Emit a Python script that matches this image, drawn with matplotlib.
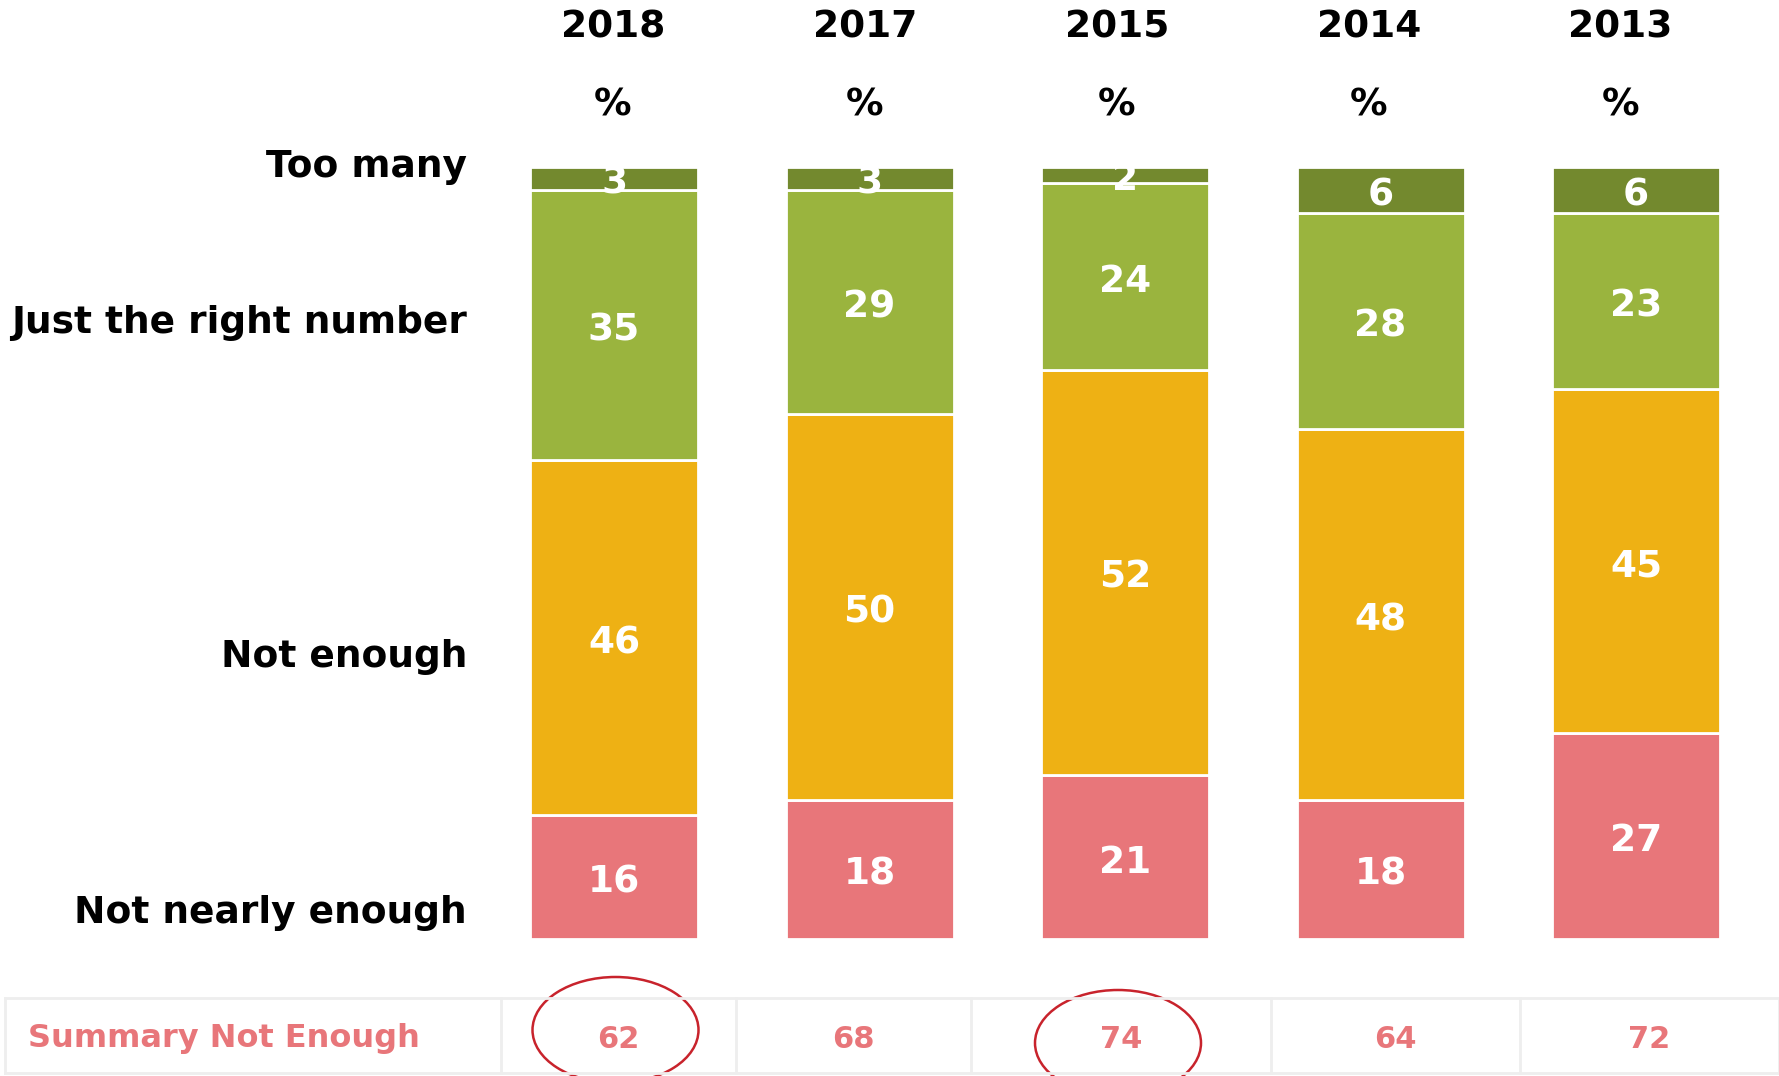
import numpy as np
import matplotlib.pyplot as plt
from matplotlib.patches import Ellipse
from matplotlib.lines import Line2D
from matplotlib.transforms import blended_transform_factory

# data
years = ['2018', '2017', '2015', '2014', '2013']
not_nearly = [16, 18, 21, 18, 27]
not_enough = [46, 50, 52, 48, 45]
just_right = [35, 29, 24, 28, 23]
too_many = [3, 3, 2, 6, 6]
summary = [62, 68, 74, 64, 72]
circled = [0, 2]  # columns circled in red

row_labels = ['Not nearly enough', 'Not enough', 'Just the right number', 'Too many']
row_label_y = [913, 657, 323, 167]  # pixel rows of the left labels
colors = ['#E8767A', '#EEB114', '#9AB43E', '#73892E']

W, H = 1779, 1076
fig = plt.figure(figsize=(W / 100, H / 100), dpi=100)
plt.rcParams['font.family'] = ['DejaVu Sans']

# axes laid out so that bars land where they are in the picture
bar_bottom, bar_top = 939, 167
ax = fig.add_axes([0, (H - bar_bottom) / H, 1, (bar_bottom - bar_top) / H])
step = 255.5
x0 = 614
ax.set_xlim(-x0 / step, (W - x0) / step)
ax.set_ylim(0, 100)
ax.axis('off')

series = np.array([not_nearly, not_enough, just_right, too_many], dtype=float)
totals = series.sum(axis=0)
pct = series / totals * 100
x = np.arange(len(years))
bottom = np.zeros(len(years))
for k in range(len(series)):
    ax.bar(x, pct[k], bottom=bottom, width=168 / step, color=colors[k],
           edgecolor='white', linewidth=2)
    for i in range(len(years)):
        yc = bottom[i] + pct[k][i] / 2 - 0.7
        ax.text(x[i], yc, str(int(series[k][i])), ha='center', va='center',
                color='white', fontsize=27, fontweight='bold')
    bottom += pct[k]

# column headers
tr = blended_transform_factory(ax.transData, fig.transFigure)
for i, yr in enumerate(years):
    hx = x[i] * 0.986 - 0.004
    ax.text(hx, 1 - 27 / H, yr, transform=tr, ha='center', va='center',
            fontsize=27, fontweight='bold', color='black')
    ax.text(hx, 1 - 105 / H, '%', transform=tr, ha='center', va='center',
            fontsize=27, fontweight='bold', color='black')

# row labels on the left
for lab, yy in zip(row_labels, row_label_y):
    fig.text(467 / W, 1 - yy / H, lab, ha='right', va='center',
             fontsize=27, fontweight='bold', color='black')

# summary table
grid = '#EEEEEE'
top_y = 1 - 998 / H
bot_y = 1 - 1073 / H
fig.add_artist(Line2D([5 / W, 1], [top_y, top_y], color=grid, lw=2))
fig.add_artist(Line2D([5 / W, 1], [bot_y, bot_y], color=grid, lw=2))
edges = [5, 501, 736, 971, 1271, 1520, 1779]
for e in edges:
    fig.add_artist(Line2D([e / W, e / W], [top_y, bot_y], color=grid, lw=2))

fig.text(28 / W, 1 - 1039 / H, 'Summary Not Enough', ha='left', va='center',
         fontsize=23, fontweight='bold', color='#E8767A')
for i, v in enumerate(summary):
    cx = (edges[i + 1] + edges[i + 2]) / 2
    fig.text(cx / W, 1 - 1039 / H, str(v), ha='center', va='center',
             fontsize=22, fontweight='bold', color='#E8767A')
    if i in circled:
        cy = 1030 if i == 0 else 1043
        e = Ellipse(((cx - 3) / 100, (H - cy) / 100), 1.66, 1.06,
                    transform=fig.dpi_scale_trans, fill=False,
                    edgecolor='#C8232C', lw=1.8)
        fig.add_artist(e)

plt.savefig('out.png', dpi=100)
